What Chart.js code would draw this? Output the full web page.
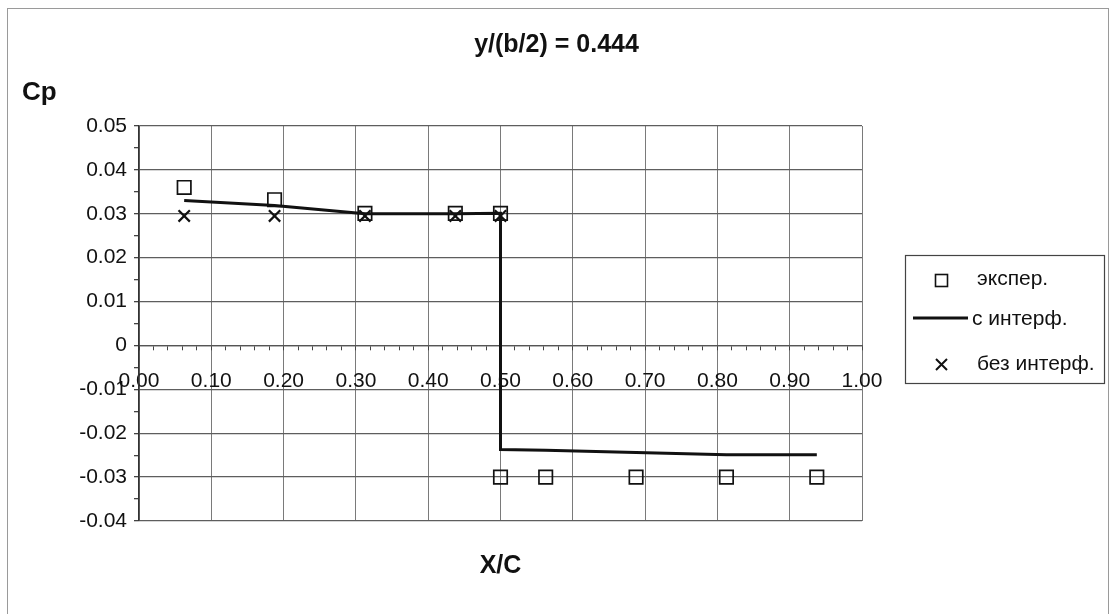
<!DOCTYPE html>
<html>
<head>
<meta charset="utf-8">
<title>Cp — X/C</title>
<script src="https://cdn.jsdelivr.net/npm/chart.js@4.4.1/dist/chart.umd.min.js"></script>
<style>
  html, body { margin: 0; padding: 0; background: #fff; }
  canvas { display: block; }
</style>
</head>
<body>
<canvas id="cpChart" width="1113" height="614"></canvas>
<script>
// chart texts
const chartTitle = 'y/(b/2) = 0.444';
const yTitle = 'Cp';
const xTitle = 'X/C';
const seriesNames = ['экспер.', 'с интерф.', 'без интерф.'];

// experiment (squares)
const experX = [0.0625, 0.1875, 0.3125, 0.4375, 0.5, 0.5, 0.5625, 0.6875, 0.8125, 0.9375];
const experY = [0.036, 0.0332, 0.0301, 0.0301, 0.0301, -0.030, -0.030, -0.030, -0.030, -0.030];

// with interference (solid line)
const interfX = [0.0625, 0.1875, 0.3125, 0.4375, 0.5, 0.5, 0.5625, 0.6875, 0.8125, 0.9375];
const interfY = [0.033, 0.0319, 0.0300, 0.0300, 0.0301, -0.0237, -0.0239, -0.0244, -0.0249, -0.0249];

// without interference (crosses)
const noInterfX = [0.0625, 0.1875, 0.3125, 0.4375, 0.5];
const noInterfY = [0.0295, 0.0295, 0.0295, 0.0295, 0.0295];

// axis ranges / tick steps
const xMin = 0, xMax = 1, xMinorStep = 0.02, xMajorStep = 0.1;
const yMin = -0.04, yMax = 0.05, yMinorStep = 0.005, yMajorStep = 0.01;

const FONT = '"Liberation Sans", Arial, sans-serif';
Chart.defaults.font.family = FONT;
Chart.defaults.color = '#111';

function toPoints(xs, ys) {
  return xs.map((x, i) => ({ x: x, y: ys[i] }));
}
function isMajor(v, step) {
  const r = v / step;
  return Math.abs(r - Math.round(r)) < 1e-6;
}

// frame, Cp label and the boxed legend
const decorPlugin = {
  id: 'decor',
  beforeDraw(chart) {
    const ctx = chart.ctx;
    ctx.save();
    ctx.fillStyle = '#fff';
    ctx.fillRect(0, 0, chart.width, chart.height);
    ctx.strokeStyle = '#9a9a9a';
    ctx.lineWidth = 1;
    ctx.strokeRect(7.5, 8.5, 1101, 700);
    ctx.restore();
  },
  afterDraw(chart) {
    const ctx = chart.ctx;
    ctx.save();
    // Cp
    ctx.fillStyle = '#111';
    ctx.font = 'bold 26px ' + FONT;
    ctx.textAlign = 'left';
    ctx.textBaseline = 'middle';
    ctx.fillText(yTitle, 22, 93);

    // legend box
    const lx = 905, ly = 255, lw = 199, lh = 128;
    ctx.strokeStyle = '#444';
    ctx.lineWidth = 1.2;
    ctx.strokeRect(lx + 0.5, ly + 0.5, lw, lh);

    ctx.font = '21px ' + FONT;
    ctx.fillStyle = '#111';
    ctx.strokeStyle = '#111';
    // square
    ctx.lineWidth = 1.6;
    ctx.strokeRect(935.5, 274.5, 12, 12);
    ctx.fillText(seriesNames[0], 977, 279);
    // line
    ctx.lineWidth = 3;
    ctx.beginPath();
    ctx.moveTo(913, 318);
    ctx.lineTo(968, 318);
    ctx.stroke();
    ctx.fillText(seriesNames[1], 972, 319);
    // cross
    ctx.lineWidth = 2;
    ctx.beginPath();
    ctx.moveTo(936, 359); ctx.lineTo(947, 370);
    ctx.moveTo(947, 359); ctx.lineTo(936, 370);
    ctx.stroke();
    ctx.fillText(seriesNames[2], 977, 364);
    ctx.restore();
  }
};

new Chart(document.getElementById('cpChart'), {
  type: 'scatter',
  data: {
    datasets: [
      {
        label: seriesNames[0],
        data: toPoints(experX, experY),
        pointStyle: 'rect',
        pointRadius: 9.5,
        pointHoverRadius: 9.5,
        borderColor: '#111',
        backgroundColor: 'rgba(0,0,0,0)',
        borderWidth: 1.7,
        showLine: false
      },
      {
        label: seriesNames[1],
        data: toPoints(interfX, interfY),
        showLine: true,
        borderColor: '#111',
        borderWidth: 3,
        pointRadius: 0,
        tension: 0,
        fill: false
      },
      {
        label: seriesNames[2],
        data: toPoints(noInterfX, noInterfY),
        pointStyle: 'crossRot',
        pointRadius: 8,
        pointHoverRadius: 8,
        borderColor: '#111',
        borderWidth: 2.2,
        showLine: false
      }
    ]
  },
  options: {
    responsive: false,
    animation: false,
    layout: { padding: 0 },
    plugins: {
      legend: { display: false },
      tooltip: { enabled: false },
      title: {
        display: true,
        text: chartTitle,
        font: { size: 25, weight: 'bold' },
        color: '#111',
        padding: { top: 30, bottom: 66 }
      },
      subtitle: {
        display: true,
        text: xTitle,
        position: 'bottom',
        fullSize: false,
        font: { size: 25, weight: 'bold' },
        color: '#111',
        padding: { top: 30, bottom: 33 }
      }
    },
    scales: {
      x: {
        type: 'linear',
        position: { y: 0 },
        min: xMin,
        max: xMax,
        ticks: {
          stepSize: xMinorStep,
          autoSkip: false,
          maxRotation: 0,
          padding: 19,
          font: { size: 21 },
          color: '#111',
          callback: v => isMajor(v, xMajorStep) ? v.toFixed(2) : ''
        },
        grid: {
          color: c => isMajor(c.tick.value, xMajorStep) ? '#7a7a7a' : 'rgba(0,0,0,0)',
          lineWidth: 1,
          tickColor: '#444',
          tickLength: 4
        },
        border: { display: true, color: '#555', width: 1.3 }
      },
      y: {
        type: 'linear',
        min: yMin,
        max: yMax,
        afterFit: s => { s.width = 139; },
        ticks: {
          stepSize: yMinorStep,
          autoSkip: false,
          padding: 7,
          font: { size: 21 },
          color: '#111',
          callback: v => {
            if (!isMajor(v, yMajorStep)) return '';
            return Math.abs(v) < 1e-9 ? '0' : v.toFixed(2);
          }
        },
        grid: {
          color: c => isMajor(c.tick.value, yMajorStep) ? '#5e5e5e' : 'rgba(0,0,0,0)',
          lineWidth: 1.3,
          tickColor: '#444',
          tickLength: 5
        },
        border: { display: true, color: '#333', width: 1.5 }
      },
      // empty right-side axis that only reserves the room for the legend
      yRoom: {
        type: 'linear',
        position: 'right',
        min: yMin,
        max: yMax,
        afterFit: s => { s.width = 251; },
        ticks: { display: false },
        grid: { display: false },
        border: { display: false }
      }
    }
  },
  plugins: [decorPlugin]
});
</script>
</body>
</html>
